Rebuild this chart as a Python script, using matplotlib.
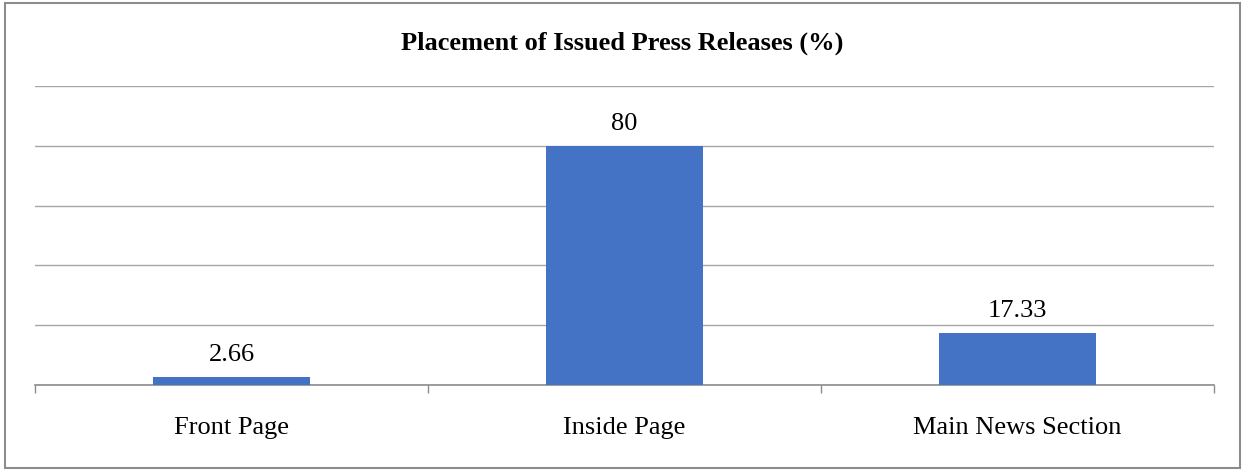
import matplotlib
matplotlib.use("Agg")
import matplotlib.pyplot as plt
from matplotlib.patches import Rectangle

categories = ["Front Page", "Inside Page", "Main News Section"]
values = [2.66, 80, 17.33]
value_labels = ["2.66", "80", "17.33"]

plt.rcParams['font.family'] = ['Liberation Serif', 'DejaVu Serif']

fig = plt.figure(figsize=(12.44, 4.70), dpi=100)
ax = fig.add_axes([35 / 1244, 85 / 470, 1179 / 1244, 299 / 470])

x = list(range(len(categories)))
bars = ax.bar(x, values, width=0.4, color="#4472C4", zorder=3)

ax.set_xlim(-0.5, len(categories) - 0.5)
ax.set_ylim(0, 100)
ax.set_yticks([0, 20, 40, 60, 80, 100])
ax.yaxis.grid(True, color="#a6a6a6", linewidth=1.0, zorder=0)
ax.tick_params(axis="y", left=False, labelleft=False)

# category boundary ticks under the baseline
ax.set_xticks(x)
ax.set_xticklabels(categories, fontsize=19)
ax.tick_params(axis="x", length=0, pad=23)
ax.set_xticks([-0.5, 0.5, 1.5, 2.5], minor=True)
ax.tick_params(axis="x", which="minor", length=6, width=1.0, color="#8c8c8c")

for s in ["top", "right", "left"]:
    ax.spines[s].set_visible(False)
ax.spines["bottom"].set_color("#8c8c8c")
ax.spines["bottom"].set_linewidth(1.2)

for b, lab in zip(bars, value_labels):
    ax.annotate(lab, (b.get_x() + b.get_width() / 2, b.get_height()),
                xytext=(0, 16), textcoords="offset points",
                ha="center", va="center", fontsize=19)

fig.text(0.5, 1 - 43 / 470, "Placement of Issued Press Releases (%)",
         ha="center", va="center", fontsize=19, fontweight="bold")

# outer frame around the whole chart
fig.patches.append(Rectangle((4.5 / 1244, 2.5 / 470), 1235 / 1244, 465 / 470,
                             transform=fig.transFigure, fill=False,
                             edgecolor="#8c8c8c", linewidth=1.5))

fig.savefig("out.png", dpi=100)
